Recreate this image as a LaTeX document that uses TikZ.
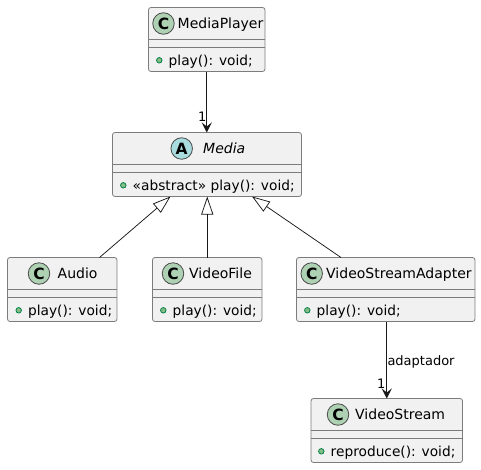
\documentclass[tikz,border=0pt]{standalone}
\usepackage{fontspec}
\setmainfont{DejaVu Sans}
\usetikzlibrary{arrows.meta,calc}
\definecolor{boxfill}{HTML}{F1F1F1}
\definecolor{ink}{HTML}{181818}
\definecolor{edge}{HTML}{7C7C7C}
\definecolor{spotline}{HTML}{4A4A4A}
\definecolor{classc}{HTML}{ADD1B2}
\definecolor{classa}{HTML}{A9DCDF}
\definecolor{dotfill}{HTML}{84BE84}
\definecolor{dotline}{HTML}{038048}
\tikzset{
  classbox/.style={draw=edge,fill=boxfill,line width=0.8pt,rounded corners=2.5pt,inner sep=0pt,outer sep=0pt},
  divider/.style={draw=edge,line width=0.8pt},
  spot/.style={circle,draw=spotline,line width=0.8pt,minimum size=21.5pt,inner sep=0pt,outer sep=0pt,font=\fontsize{15.5}{17}\selectfont\bfseries},
  dot/.style={circle,draw=dotline,fill=dotfill,line width=0.8pt,minimum size=5.5pt,inner sep=0pt,outer sep=0pt},
  titletext/.style={anchor=base west,inner sep=0pt,font=\fontsize{14}{16}\selectfont},
  membertext/.style={anchor=base west,inner sep=0pt,font=\fontsize{13.75}{16}\selectfont},
  labeltext/.style={anchor=base west,inner sep=0pt,font=\fontsize{13}{15}\selectfont},
  assoc/.style={draw=ink,line width=1pt,-{Stealth[length=10pt,width=10pt,inset=4pt,fill=ink]}},
  inherit/.style={draw=ink,line width=0.75pt,-{Triangle[open,length=18pt,width=12pt]}}
}
\newcommand{\classnode}[9]{%
  \node[classbox,minimum width=#3pt,minimum height=64pt] (#1) at (#2,#4+32) {};
  \draw[divider] ([yshift=-32pt]#1.north west) -- ([yshift=-32pt]#1.north east);
  \draw[divider] ([yshift=-39.5pt]#1.north west) -- ([yshift=-39.5pt]#1.north east);
  \node[spot,fill=#6] (#1spot) at (#5,#4+16) {#7};
  \node[titletext] (#1title) at (#8,#4+20.7) {#9};
}
\newcommand{\membernode}[4]{%
  \node[dot] (#1dot) at (#2,#4+52.8) {};
  \node[membertext] (#1member) at ($(#1dot)+(9.2,5.1)$) {#3};
}
\begin{document}
\begin{tikzpicture}[x=1pt,y=-1pt]
\useasboundingbox (0,0) rectangle (481,469);
\classnode{mp}{206.75}{116.5}{7.5}{163.5}{classc}{C}{177.5}{MediaPlayer}
\membernode{mp}{159.3}{play(): void;}{7.5}
\classnode{media}{207}{189}{132.5}{181.7}{classa}{A}{203}{\textit{Media}}
\membernode{media}{123.3}{«abstract» play(): void;}{132.5}
\classnode{audio}{62.25}{109.5}{257.5}{39}{classc}{C}{57.5}{Audio}
\membernode{audio}{18.7}{play(): void;}{257.5}
\classnode{vf}{207.25}{109.5}{257.5}{173}{classc}{C}{189}{VideoFile}
\membernode{vf}{163.3}{play(): void;}{257.5}
\classnode{vsa}{385.75}{178.5}{257.5}{311.7}{classc}{C}{326}{VideoStreamAdapter}
\membernode{vsa}{307.3}{play(): void;}{257.5}
\classnode{vs}{386.75}{151.5}{398.5}{338}{classc}{C}{355}{VideoStream}
\membernode{vs}{321.3}{reproduce(): void;}{398.5}
\coordinate (audioTop) at ([xshift=37.25pt]audio.north);
\coordinate (audioTip) at ([xshift=-36.5pt]media.south);
\coordinate (vsaTop) at ([xshift=-44.75pt]vsa.north);
\coordinate (vsaTip) at ([xshift=45pt]media.south);
\draw[assoc] (mp.south) -- (mp.south |- media.north);
\draw[assoc] (vs.north |- vsa.south) -- (vs.north);
\draw[inherit] (audioTop) -- (audioTip);
\draw[inherit] (vf.north) -- (vf.north |- media.south);
\draw[inherit] (vsaTop) -- (vsaTip);
\node[labeltext] (one1) at (198,121.5) {1};
\node[labeltext] (one2) at (377,388) {1};
\node[labeltext] (adapt) at (387.3,365) {adaptador};
\end{tikzpicture}
\end{document}
